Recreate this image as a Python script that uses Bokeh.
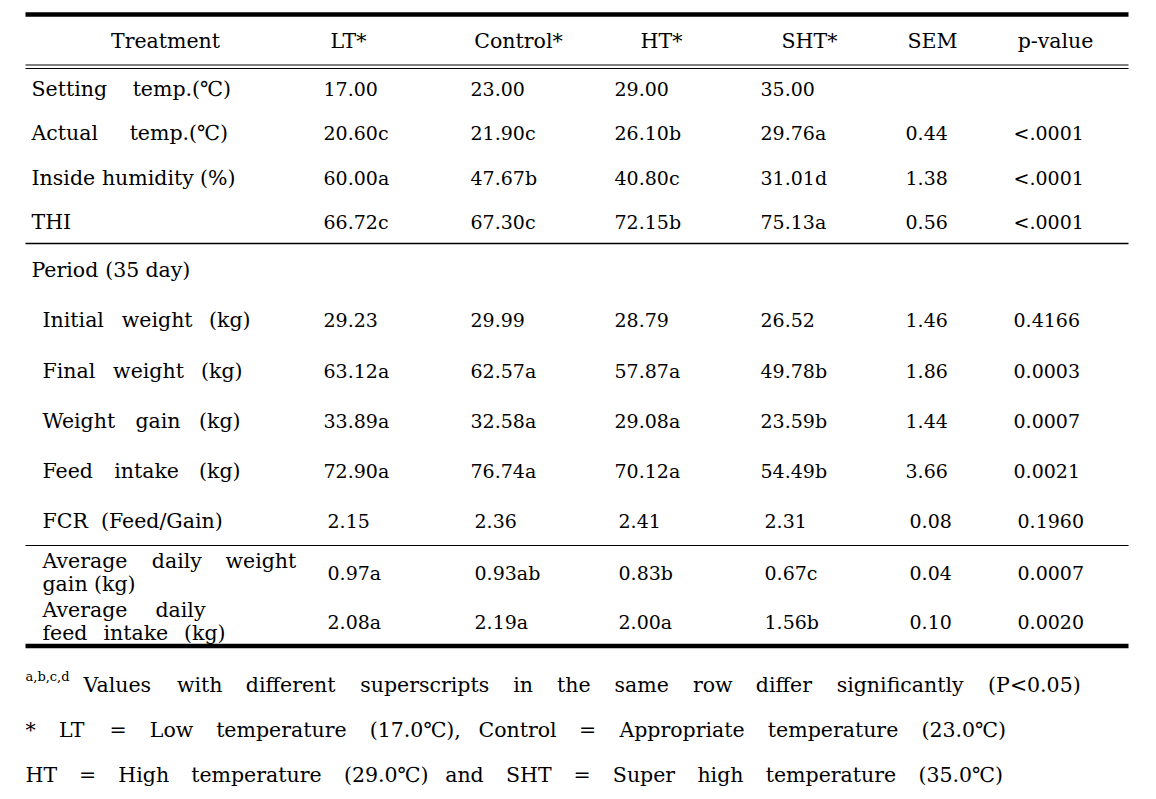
from bokeh.plotting import figure
from bokeh.models import Range1d, ColumnDataSource
from bokeh.core.properties import value
from bokeh.embed import file_html
from bokeh.resources import INLINE

headers = ["Treatment", "LT*", "Control*", "HT*", "SHT*", "SEM", "p-value"]
labels = ["Setting temp.(\u2103)", "Actual temp.(\u2103)", "Inside humidity (%)", "THI",
          "Period (35 day)", "Initial weight (kg)", "Final weight (kg)", "Weight gain (kg)",
          "Feed intake (kg)", "FCR (Feed/Gain)", "Average daily weight|gain (kg)",
          "Average daily|feed intake (kg)"]
lt = ["17.00", "20.60c", "60.00a", "66.72c", "", "29.23", "63.12a", "33.89a", "72.90a", "2.15", "0.97a", "2.08a"]
control = ["23.00", "21.90c", "47.67b", "67.30c", "", "29.99", "62.57a", "32.58a", "76.74a", "2.36", "0.93ab", "2.19a"]
ht = ["29.00", "26.10b", "40.80c", "72.15b", "", "28.79", "57.87a", "29.08a", "70.12a", "2.41", "0.83b", "2.00a"]
sht = ["35.00", "29.76a", "31.01d", "75.13a", "", "26.52", "49.78b", "23.59b", "54.49b", "2.31", "0.67c", "1.56b"]
sem = ["", "0.44", "1.38", "0.56", "", "1.46", "1.86", "1.44", "3.66", "0.08", "0.04", "0.10"]
pval = ["", "<.0001", "<.0001", "<.0001", "", "0.4166", "0.0003", "0.0007", "0.0021", "0.1960", "0.0007", "0.0020"]
footnote_sup = "a,b,c,d"
footnotes = ["Values with different superscripts in the same row differ significantly (P<0.05)",
             "* LT = Low temperature (17.0\u2103), Control = Appropriate temperature (23.0\u2103)",
             "HT = High temperature (29.0\u2103) and SHT = Super high temperature (35.0\u2103)"]

FONT = "DejaVu Serif"
NUM_FSZ = 19.0      # numbers
TXT_FSZ = 20.5      # words (headers, labels, notes)

p = figure(width=1140, height=791, output_backend="svg", toolbar_location=None,
           x_range=Range1d(0, 1140), y_range=Range1d(791, 0), min_border=0)
p.axis.visible = False
p.grid.visible = False
p.outline_line_color = None
p.background_fill_color = "white"

# rules
X0, X1 = 25, 1128
p.segment(x0=[X0], y0=[14], x1=[X1], y1=[14], line_width=4.5, line_color="black")
p.segment(x0=[X0, X0], y0=[64.5, 68], x1=[X1, X1], y1=[64.5, 68], line_width=1.2, line_color="black")
p.segment(x0=[X0], y0=[243], x1=[X1], y1=[243], line_width=1.5, line_color="black")
p.segment(x0=[X0], y0=[545], x1=[X1], y1=[545], line_width=1.2, line_color="black")
p.segment(x0=[X0], y0=[645.5], x1=[X1], y1=[645.5], line_width=4.5, line_color="black")

# approximate DejaVu Serif advance widths (em) used to spread words across a line
W = {" ": .318, "(": .390, ")": .390, "*": .500, ",": .318, "-": .338, ".": .318, "/": .337,
     "<": .838, "=": .838, "%": .950, "\u2103": .85}
W.update({c: .636 for c in "0123456789"})
W.update({"A": .722, "C": .731, "F": .689, "G": .787, "H": .863, "I": .424, "L": .683,
          "P": .664, "R": .770, "S": .684, "T": .657, "V": .722, "W": 1.028})
W.update({"a": .596, "b": .640, "c": .560, "d": .640, "e": .592, "f": .370, "g": .640,
          "h": .644, "i": .320, "k": .601, "l": .320, "m": .948, "n": .644, "o": .602,
          "p": .640, "r": .478, "s": .513, "t": .402, "u": .644, "v": .565, "w": .818,
          "y": .565})


def width(s, size):
    return sum(W.get(c, .62) for c in s) * size


def txt(xs, ys, ts, align="left", size=NUM_FSZ):
    src = ColumnDataSource(dict(x=xs, y=ys, t=ts))
    p.text(x="x", y="y", text="t", source=src, text_font=value(FONT),
           text_font_size=value(f"{size}px"),
           text_align=align, text_baseline="middle", text_color="black")


def spread(line, x0, x1, y, size=TXT_FSZ):
    words = line.split(" ")
    if len(words) == 1:
        txt([x0], [y], words, size=size)
        return
    ws = [width(w, size) for w in words]
    gap = max((x1 - x0 - sum(ws)) / (len(words) - 1), 0.3 * size)
    xs, x = [], x0
    for w in ws:
        xs.append(x)
        x += w + gap
    txt(xs, [y] * len(words), words, size=size)


# header
hx = [165, 348, 518, 661, 809, 932, 1055]
txt(hx, [40] * len(hx), headers, align="center", size=TXT_FSZ)

row_y = [88, 132, 177, 221, 269, 319, 370, 420, 470, 520, 572, 621]
label_x = [31, 31, 31, 31, 31, 42, 42, 42, 42, 42, 42, 42]
label_end = [225, 222, 230, 90, 180, 250, 242, 240, 240, 223, (295, 135), (205, 225)]

for lab, x, y, xe in zip(labels, label_x, row_y, label_end):
    parts = lab.split("|")
    if len(parts) == 1:
        spread(parts[0], x, xe, y)
    else:
        spread(parts[0], x, xe[0], y - 12)
        spread(parts[1], x, xe[1], y + 11)

col_x = [323, 470, 614, 760, 905, 1013]
shift = [0, 0, 0, 0, 0, 0, 0, 0, 0, 4, 4, 4]
for cx, col in zip(col_x, [lt, control, ht, sht, sem, pval]):
    xs, ys, ts = [], [], []
    for v, y, s in zip(col, row_y, shift):
        if v:
            xs.append(cx + s); ys.append(y); ts.append(v)
    txt(xs, ys, ts)

# footnotes
txt([25], [676], [footnote_sup], size=13)
spread(footnotes[0], 83, 1080, 684)
spread(footnotes[1], 25, 1000, 729)
spread(footnotes[2], 25, 997, 774)

open("out.html", "w").write(file_html(p, INLINE))
